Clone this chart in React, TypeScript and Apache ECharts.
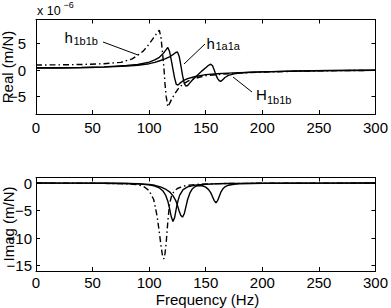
import React, { useEffect, useRef } from "react";
import * as echarts from "echarts";

// h1b1b (dash-dot)
const freqDash = [0, 20, 40, 60, 75, 85, 90, 95, 100, 104, 107, 109, 110.5, 112, 113, 114, 115, 116.5, 118, 120, 122, 125, 128, 131, 135, 140, 145, 150, 160, 170, 180, 200, 230, 260, 300];
const realDash = [0.95, 0.98, 1.05, 1.2, 1.45, 2.1, 2.8, 3.6, 4.9, 6.1, 7.0, 7.5, 6.0, 2.8, 0.5, -2.6, -4.9, -6.9, -6.3, -5.4, -4.7, -3.7, -3.0, -2.5, -2.0, -1.6, -1.3, -1.05, -0.85, -0.68, -0.55, -0.38, -0.22, -0.12, -0.05];
const imagDash = [-0.02, -0.02, -0.04, -0.07, -0.12, -0.22, -0.32, -0.6, -1.4, -3.0, -6.0, -9.0, -11.5, -13.5, -13.8, -12.8, -11.0, -7.0, -3.8, -2.2, -1.5, -1.0, -0.75, -0.55, -0.4, -0.3, -0.22, -0.18, -0.12, -0.09, -0.07, -0.05, -0.04, -0.03, -0.02];

// h1a1a (solid)
const freqA = [0, 20, 40, 60, 80, 90, 100, 105, 109, 112, 114.5, 116.5, 118, 119.5, 121, 122.5, 124, 125.5, 127, 130, 134, 140, 150, 160, 170, 180, 200, 230, 260, 300];
const realA = [0.45, 0.45, 0.5, 0.6, 0.85, 1.05, 1.5, 1.9, 2.4, 3.0, 3.7, 4.25, 3.5, 1.9, 0.2, -1.5, -2.7, -2.8, -2.5, -2.0, -1.6, -1.25, -0.85, -0.7, -0.58, -0.48, -0.34, -0.2, -0.1, -0.04];
const imagA = [-0.01, -0.02, -0.03, -0.05, -0.1, -0.16, -0.35, -0.55, -0.9, -1.4, -2.2, -3.3, -4.6, -6.1, -7.0, -6.3, -4.6, -3.2, -2.2, -1.2, -0.7, -0.42, -0.22, -0.14, -0.1, -0.07, -0.05, -0.03, -0.02, -0.01];

// H1b1b (solid, coupled)
const freqB = [0, 20, 40, 60, 80, 90, 100, 105, 110, 114, 118, 121, 123.5, 125, 126.5, 128, 129.5, 131, 132.5, 134, 136, 138, 141, 144, 147, 150, 152.5, 154.5, 156, 157.5, 159, 160.5, 162, 163.5, 165, 167, 170, 175, 180, 190, 200, 230, 260, 300];
const realB = [0.4, 0.4, 0.45, 0.55, 0.75, 0.9, 1.2, 1.45, 1.8, 2.1, 2.5, 2.9, 3.3, 3.4, 2.6, 0.9, -1.0, -2.5, -3.0, -2.9, -2.4, -1.9, -1.3, -0.7, -0.1, 0.45, 0.9, 1.1, 0.8, 0.0, -0.9, -1.6, -2.0, -2.1, -1.8, -1.4, -1.0, -0.7, -0.55, -0.42, -0.33, -0.18, -0.09, -0.03];
const imagB = [-0.01, -0.02, -0.03, -0.05, -0.09, -0.14, -0.28, -0.42, -0.7, -1.05, -1.6, -2.3, -3.2, -4.1, -5.1, -5.9, -6.2, -5.6, -4.3, -3.0, -1.8, -1.1, -0.6, -0.45, -0.5, -0.75, -1.2, -1.8, -2.5, -3.2, -3.6, -3.2, -2.4, -1.6, -1.1, -0.7, -0.4, -0.22, -0.15, -0.1, -0.07, -0.04, -0.02, -0.01];

const realTicks = [-5, 0, 5];
const imagTicks = [-15, -10, -5, 0];

const FONT = "Liberation Sans";
const FS = 15;

const pairs = (xs: number[], ys: number[]) => xs.map((x, i) => [x, ys[i]]);
const fmt = (v: number) => String(v).replace("-", "\u2212");

export default function App() {
  const ref = useRef<HTMLDivElement>(null);
  useEffect(() => {
    const chart = echarts.init(ref.current!, null, { renderer: "svg" });
    const axisLine = { show: true, onZero: false, lineStyle: { color: "#000", width: 1 } };
    const tick = (vals?: number[]) => ({
      show: true, inside: true, length: 4, lineStyle: { color: "#000", width: 1 },
      ...(vals ? { customValues: vals } : {}),
    });
    const xAx = (grid: number, pos: "bottom" | "top", margin: number) => ({
      type: "value", gridIndex: grid, position: pos, min: 0, max: 300, interval: 50,
      axisLine, axisTick: tick(), splitLine: { show: false },
      axisLabel: pos === "bottom"
        ? { show: true, color: "#000", fontFamily: FONT, fontSize: FS, margin, formatter: fmt }
        : { show: false },
    });
    const yAx = (grid: number, pos: "left" | "right", min: number, max: number, vals: number[], margin: number) => ({
      type: "value", gridIndex: grid, position: pos, min, max,
      axisLine, axisTick: tick(vals), splitLine: { show: false },
      axisLabel: pos === "left"
        ? { show: true, color: "#000", fontFamily: FONT, fontSize: FS, margin, customValues: vals, formatter: fmt }
        : { show: false },
    });
    const solid = { color: "#000", width: 1.4, type: "solid" };
    const dash = { color: "#000", width: 1.4, type: [6, 3, 1.5, 3] };
    const ser = (xi: number, yi: number, data: number[][], ls: any) => ({
      type: "line", xAxisIndex: xi, yAxisIndex: yi, data, showSymbol: false, symbol: "none",
      lineStyle: ls, silent: true,
    });
    const txt = (x: number, y: number, text: string, size: number, extra: any = {}) => ({
      type: "text", x, y,
      style: { text, fontFamily: FONT, fontSize: size, fill: "#000", align: "left", verticalAlign: "middle", ...extra },
    });
    const ln = (x1: number, y1: number, x2: number, y2: number) => ({
      type: "line", shape: { x1, y1, x2, y2 }, style: { stroke: "#000", lineWidth: 1 },
    });
    chart.setOption({
      animation: false,
      grid: [
        { left: 36, right: 12, top: 19.5, height: 94.5 },
        { left: 36, right: 12, top: 177.5, height: 93.5 },
      ],
      xAxis: [xAx(0, "bottom", 6), xAx(0, "top", 0), xAx(1, "bottom", 4), xAx(1, "top", 0)],
      yAxis: [
        yAx(0, "left", -8.25, 9.5, realTicks, 10),
        yAx(0, "right", -8.25, 9.5, realTicks, 0),
        yAx(1, "left", -16, 1, imagTicks, 4),
        yAx(1, "right", -16, 1, imagTicks, 0),
      ],
      series: [
        ser(0, 0, pairs(freqDash, realDash), dash),
        ser(0, 0, pairs(freqA, realA), solid),
        ser(0, 0, pairs(freqB, realB), solid),
        ser(2, 2, pairs(freqDash, imagDash), dash),
        ser(2, 2, pairs(freqA, imagA), solid),
        ser(2, 2, pairs(freqB, imagB), solid),
      ],
      graphic: [
        txt(37, 11, "x 10", 12.5),
        txt(63.5, 5, "\u22126", 9),
        { ...txt(7, 67, "Real (m/N)", FS, { align: "center" }), rotation: Math.PI / 2 },
        { ...txt(8, 224, "Imag (m/N)", FS, { align: "center" }), rotation: Math.PI / 2 },
        txt(207.5, 299, "Frequency (Hz)", FS, { align: "center" }),
        txt(64.5, 37.5, "h", FS),
        txt(73.5, 41, "1b1b", 11),
        ln(103, 42, 138, 55),
        txt(206.5, 43, "h", FS),
        txt(215.5, 46, "1a1a", 11),
        ln(205, 44, 184, 64),
        txt(256, 94, "H", FS),
        txt(267, 99.5, "1b1b", 11),
        ln(252, 92, 233, 77),
      ],
    });
    return () => chart.dispose();
  }, []);
  return <div ref={ref} style={{ position: "absolute", left: 0, top: 0, width: 391, height: 308 }} />;
}
